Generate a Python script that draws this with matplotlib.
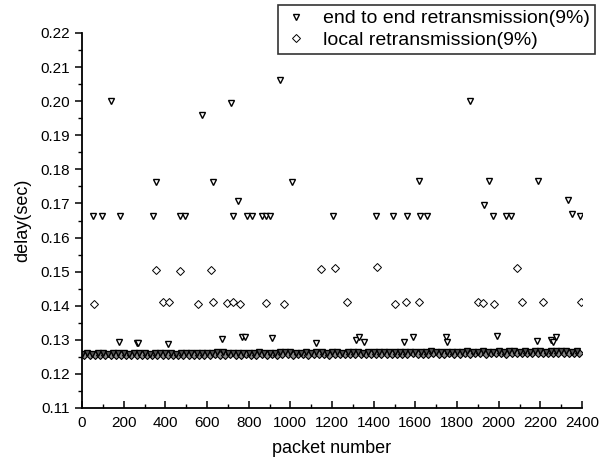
import matplotlib
matplotlib.use("Agg")
import matplotlib.pyplot as plt
from matplotlib.ticker import MultipleLocator, FormatStrFormatter

plt.rcParams['font.family'] = ['Liberation Sans', 'DejaVu Sans']

# ---- data ----
# end to end retransmission: retransmitted packets (outliers)
e2e_x = [54, 96, 181, 341, 470, 496, 726, 790, 816, 862, 883, 902, 1203,
         1411, 1491, 1562, 1622, 1657, 1974, 2035, 2058, 2350, 2390,
         355, 627, 1008, 1616, 1955, 2190,
         747, 1930, 2334,
         139, 576, 714, 950, 1862,
         178, 262, 270, 411, 670, 766, 782, 913, 1123,
         1315, 1328, 1354, 1546, 1590, 1747, 1754, 1994, 2186, 2250, 2259, 2275]
e2e_y = [0.1663, 0.1663, 0.1663, 0.1663, 0.1663, 0.1663, 0.1663, 0.1663, 0.1663, 0.1663, 0.1663, 0.1663, 0.1663,
         0.1663, 0.1663, 0.1663, 0.1663, 0.1663, 0.1663, 0.1663, 0.1663, 0.1668, 0.1663,
         0.1762, 0.1762, 0.1762, 0.1765, 0.1765, 0.1765,
         0.1707, 0.1695, 0.1710,
         0.2002, 0.1960, 0.1995, 0.2062, 0.2002,
         0.1293, 0.1290, 0.1290, 0.1288, 0.1303, 0.1307, 0.1307, 0.1305, 0.1290,
         0.1298, 0.1307, 0.1293, 0.1293, 0.1307, 0.1307, 0.1293, 0.1310, 0.1296, 0.1298, 0.1293, 0.1307]

# local retransmission: retransmitted packets (outliers)
loc_x = [58, 387, 419, 558, 627, 694, 723, 758, 883, 970, 1270,
         1502, 1555, 1618, 1902, 1923, 1978, 2110, 2214, 2394,
         355, 470, 618, 1146, 1216, 1418, 2086]
loc_y = [0.1405, 0.1410, 0.1410, 0.1405, 0.1412, 0.1408, 0.1410, 0.1405, 0.1408, 0.1405, 0.1410,
         0.1405, 0.1410, 0.1410, 0.1412, 0.1408, 0.1405, 0.1410, 0.1410, 0.1410,
         0.1505, 0.1503, 0.1505, 0.1507, 0.1512, 0.1515, 0.1512]

# dense baseline band of normally delivered packets (sampled along the band)
base_x = [0, 25, 50, 75, 100, 125, 150, 175, 200, 225, 250, 275,
          300, 325, 350, 375, 400, 425, 450, 475, 500, 525, 550, 575,
          600, 625, 650, 675, 700, 725, 750, 775, 800, 825, 850, 875,
          900, 925, 950, 975, 1000, 1025, 1050, 1075, 1100, 1125, 1150, 1175,
          1200, 1225, 1250, 1275, 1300, 1325, 1350, 1375, 1400, 1425, 1450, 1475,
          1500, 1525, 1550, 1575, 1600, 1625, 1650, 1675, 1700, 1725, 1750, 1775,
          1800, 1825, 1850, 1875, 1900, 1925, 1950, 1975, 2000, 2025, 2050, 2075,
          2100, 2125, 2150, 2175, 2200, 2225, 2250, 2275, 2300, 2325, 2350, 2375]
e2e_base_y = [0.1259, 0.1260, 0.1258, 0.1260, 0.1261, 0.1259, 0.1261, 0.1262, 0.1260, 0.1259, 0.1261, 0.1260,
              0.1261, 0.1259, 0.1260, 0.1262, 0.1261, 0.1260, 0.1259, 0.1261, 0.1262, 0.1260, 0.1261, 0.1260,
              0.1262, 0.1261, 0.1263, 0.1264, 0.1262, 0.1261, 0.1262, 0.1260, 0.1261, 0.1262, 0.1263, 0.1261,
              0.1262, 0.1261, 0.1263, 0.1264, 0.1263, 0.1262, 0.1261, 0.1263, 0.1262, 0.1264, 0.1263, 0.1262,
              0.1263, 0.1264, 0.1262, 0.1263, 0.1264, 0.1263, 0.1262, 0.1264, 0.1263, 0.1265, 0.1264, 0.1263,
              0.1264, 0.1263, 0.1265, 0.1264, 0.1263, 0.1265, 0.1264, 0.1266, 0.1265, 0.1264, 0.1263, 0.1265,
              0.1264, 0.1265, 0.1266, 0.1264, 0.1265, 0.1266, 0.1265, 0.1264, 0.1266, 0.1265, 0.1266, 0.1267,
              0.1265, 0.1266, 0.1265, 0.1267, 0.1266, 0.1265, 0.1267, 0.1266, 0.1267, 0.1266, 0.1265, 0.1267]
loc_base_y = [0.1254, 0.1255, 0.1254, 0.1256, 0.1255, 0.1254, 0.1255, 0.1256, 0.1255, 0.1254, 0.1256, 0.1255,
              0.1256, 0.1255, 0.1254, 0.1256, 0.1255, 0.1256, 0.1255, 0.1254, 0.1256, 0.1255, 0.1256, 0.1255,
              0.1256, 0.1257, 0.1255, 0.1256, 0.1257, 0.1256, 0.1255, 0.1257, 0.1256, 0.1255, 0.1257, 0.1256,
              0.1257, 0.1256, 0.1258, 0.1257, 0.1256, 0.1257, 0.1258, 0.1256, 0.1257, 0.1258, 0.1257, 0.1256,
              0.1257, 0.1258, 0.1257, 0.1259, 0.1258, 0.1257, 0.1258, 0.1259, 0.1257, 0.1258, 0.1259, 0.1258,
              0.1258, 0.1259, 0.1258, 0.1260, 0.1259, 0.1258, 0.1259, 0.1260, 0.1259, 0.1258, 0.1260, 0.1259,
              0.1259, 0.1260, 0.1259, 0.1261, 0.1260, 0.1259, 0.1260, 0.1261, 0.1260, 0.1259, 0.1261, 0.1260,
              0.1260, 0.1261, 0.1260, 0.1262, 0.1261, 0.1260, 0.1261, 0.1262, 0.1261, 0.1260, 0.1262, 0.1261]
loc_base_offset = 12

labels = ["end to end retransmission(9%)", "local retransmission(9%)"]

# ---- figure ----
fig = plt.figure(figsize=(6.05, 4.59), dpi=100)
ax = fig.add_axes([82/605, 1-408/459, 500/605, 375/459])

mk_tri = dict(marker='v', markersize=5.0, markerfacecolor='white', markeredgecolor='black',
              markeredgewidth=1.0, linestyle='none')
mk_dia = dict(marker='D', markersize=4.0, markerfacecolor='white', markeredgecolor='black',
              markeredgewidth=0.7, linestyle='none')
band_tri = dict(marker='v', markersize=4.2, markerfacecolor='#555555', markeredgecolor='black',
                markeredgewidth=1.0, linestyle='none')
band_dia = dict(marker='D', markersize=3.6, markerfacecolor='#888888', markeredgecolor='black',
                markeredgewidth=0.8, linestyle='none')

ax.plot([x + loc_base_offset for x in base_x], loc_base_y, **band_dia)
ax.plot(base_x, e2e_base_y, **band_tri)
h1, = ax.plot(e2e_x, e2e_y, **mk_tri)
h2, = ax.plot(loc_x, loc_y, **mk_dia)

ax.set_xlim(0, 2400)
ax.set_ylim(0.11, 0.22)
ax.xaxis.set_major_locator(MultipleLocator(200))
ax.xaxis.set_minor_locator(MultipleLocator(100))
ax.yaxis.set_major_locator(MultipleLocator(0.01))
ax.yaxis.set_minor_locator(MultipleLocator(0.005))
ax.yaxis.set_major_formatter(FormatStrFormatter('%.2f'))

for s in ['top', 'right']:
    ax.spines[s].set_visible(False)
for s in ['left', 'bottom']:
    ax.spines[s].set_linewidth(1.3)

ax.tick_params(axis='x', which='major', direction='in', length=5, width=1.1, labelsize=11, pad=6)
ax.tick_params(axis='x', which='minor', direction='in', length=3, width=1.0)
ax.tick_params(axis='y', which='major', direction='out', length=5, width=1.1, labelsize=11)
ax.tick_params(axis='y', which='minor', direction='out', length=3, width=1.0)

ax.set_xlabel("packet number", fontsize=13, labelpad=7)
ax.set_ylabel("delay(sec)", fontsize=13, labelpad=7)

leg = fig.legend([h1, h2], labels, loc='upper right', bbox_to_anchor=(595/605, 1-5/459),
                 frameon=True, fancybox=False, shadow=False, fontsize=14,
                 borderaxespad=0, handletextpad=0.7, borderpad=0.25, labelspacing=0.2,
                 handlelength=1.4)
leg.get_frame().set_edgecolor('black')
leg.get_frame().set_linewidth(1.2)

fig.savefig("out.png", dpi=100)
